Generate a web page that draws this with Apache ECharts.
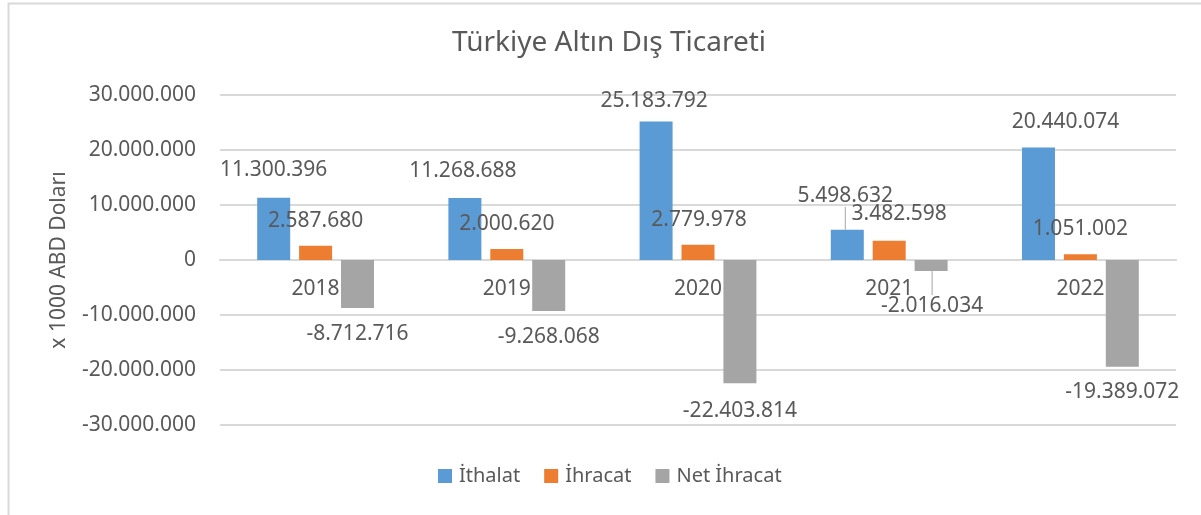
<!DOCTYPE html>
<html>
<head>
<meta charset="utf-8">
<script src="https://cdn.jsdelivr.net/npm/echarts@6/dist/echarts.min.js"></script>
<style>
  html, body { margin: 0; padding: 0; background: #fff; }
  #main { width: 1201px; height: 515px; }
</style>
</head>
<body>
<div id="main"></div>
<script>
// data (x 1000 USD)
const years = ['2018', '2019', '2020', '2021', '2022']
const ithalat = [11300396, 11268688, 25183792, 5498632, 20440074]
const ihracat = [2587680, 2000620, 2779978, 3482598, 1051002]
const netIhracat = [-8712716, -9268068, -22403814, -2016034, -19389072]

// label nudges (px) per series, per year
const nudgeX = [
  [0, -2, -2, -2, 27],
  [0, 0, 1, 10, 0],
  [0, 0, 0, 1, 0]
]
const nudgeY = [
  [-17, -17, -10, -23, -15],
  [-14, -14, -14, -16, -15],
  [16, 16, 17, 24, 15]
]
// labels with a leader line, per series (only 2021 İthalat and Net İhracat)
const leader = [[3], [], [3]]

const font = 'Noto Sans'
const textColor = '#595959'

function dots (v) {
  const s = String(Math.abs(Math.round(v))).replace(/\B(?=(\d{3})+(?!\d))/g, '.')
  return (v < 0 ? '-' : '') + s
}

function makeData (arr, idx) {
  return arr.map((v, i) => {
    const item = { value: v }
    if (leader[idx].indexOf(i) >= 0) {
      item.labelLine = { show: true, lineStyle: { color: '#a6a6a6', width: 1 } }
    }
    return item
  })
}

function barSeries (name, arr, color, idx) {
  return {
    name: name,
    type: 'bar',
    data: makeData(arr, idx),
    barWidth: 33,
    barGap: '27%',
    itemStyle: { color: color },
    label: {
      show: true,
      position: idx === 2 ? 'bottom' : 'top',
      distance: 0,
      color: textColor,
      fontFamily: font,
      fontSize: 21,
      formatter: p => dots(p.value)
    },
    labelLine: { show: false },
    labelLayout: p => ({ dx: nudgeX[idx][p.dataIndex], dy: nudgeY[idx][p.dataIndex] })
  }
}

const chart = echarts.init(document.getElementById('main'))
const option = {
  animation: false,
  backgroundColor: '#fff',
  title: {
    text: 'Türkiye Altın Dış Ticareti',
    left: 447,
    top: 24,
    textStyle: { color: textColor, fontFamily: font, fontSize: 28, fontWeight: 'normal' }
  },
  graphic: [{
    type: 'rect',
    left: 6,
    top: 1,
    shape: { width: 1220, height: 540 },
    style: { fill: 'none', stroke: '#d9d9d9', lineWidth: 2 },
    silent: true
  }],
  grid: { left: 220, right: 25, top: 95, bottom: 90 },
  legend: {
    bottom: 24,
    left: 433,
    itemWidth: 14,
    itemHeight: 14,
    itemGap: 24,
    icon: 'rect',
    textStyle: { color: textColor, fontFamily: font, fontSize: 20, padding: [0, 0, 0, 2] },
    data: ['İthalat', 'İhracat', 'Net İhracat']
  },
  xAxis: {
    type: 'category',
    data: years,
    // sit the axis on the zero line
    offset: -165,
    axisLine: { onZero: false, lineStyle: { color: '#d9d9d9', width: 2 } },
    axisTick: { show: false },
    axisLabel: { color: textColor, fontFamily: font, fontSize: 21, margin: 19 }
  },
  yAxis: {
    type: 'value',
    min: -30000000,
    max: 30000000,
    interval: 10000000,
    name: 'x 1000 ABD Doları',
    nameLocation: 'middle',
    nameGap: 150,
    nameTextStyle: { color: textColor, fontFamily: font, fontSize: 21 },
    axisLine: { show: false },
    axisTick: { show: false },
    axisLabel: { color: textColor, fontFamily: font, fontSize: 21, margin: 24, formatter: v => dots(v) },
    splitLine: { lineStyle: { color: '#d9d9d9', width: 2 } }
  },
  series: [
    barSeries('İthalat', ithalat, '#5b9bd5', 0),
    barSeries('İhracat', ihracat, '#ed7d31', 1),
    barSeries('Net İhracat', netIhracat, '#a5a5a5', 2)
  ]
}
chart.setOption(option)
</script>
</body>
</html>
